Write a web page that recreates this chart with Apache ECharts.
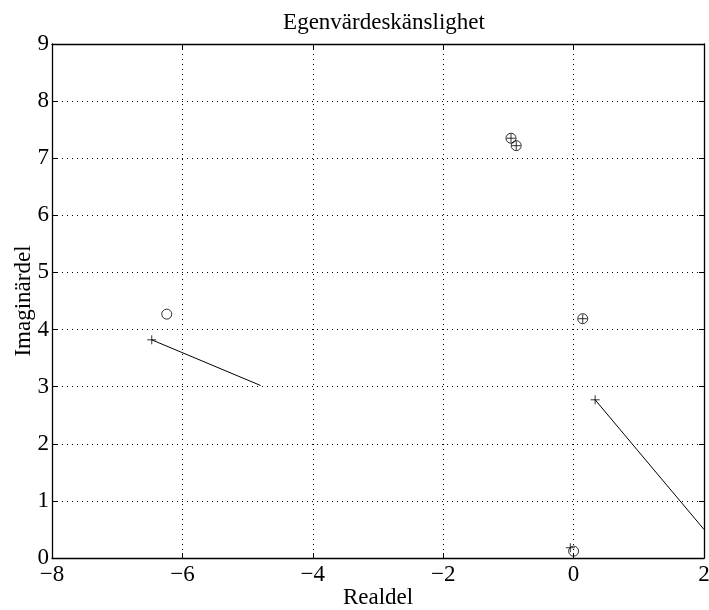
<!DOCTYPE html>
<html>
<head>
<meta charset="utf-8">
<script src="https://cdn.jsdelivr.net/npm/echarts@6/dist/echarts.min.js"></script>
<style>
html,body{margin:0;padding:0;background:#fff;}
#chart{width:709px;height:610px;}
</style>
</head>
<body>
<div id="chart"></div>
<script>
// Eigenvalues of the original system (circles)
const circlePoints = [[-6.24, 4.27], [0.14, 4.19], [0.0, 0.12], [-0.96, 7.35], [-0.88, 7.22]];
// Perturbed eigenvalues (plus markers)
const plusPoints = [[-6.47, 3.82], [0.33, 2.77], [0.14, 4.19], [-0.05, 0.18], [-0.96, 7.35], [-0.88, 7.22]];
// Sensitivity direction segments, start and end
const sensLine1 = [[-6.47, 3.82], [-4.80, 3.02]];
const sensLine2 = [[0.33, 2.77], [2.0, 0.50]];
const xTicks = [-8, -6, -4, -2, 0, 2];
const yTicks = [0, 1, 2, 3, 4, 5, 6, 7, 8, 9];

const font = 'Liberation Serif';
const chart = echarts.init(document.getElementById('chart'), null, {renderer: 'canvas'});

// box edges on top and right with inward ticks, no labels
const boxAxis = {
  axisLine: {show: true, onZero: false, lineStyle: {color: '#000', width: 1.3}},
  axisTick: {show: true, inside: true, length: 5, lineStyle: {color: '#000'}},
  axisLabel: {show: false},
  splitLine: {show: false}
};

chart.setOption({
  animation: false,
  backgroundColor: '#fff',
  title: {
    text: 'Egenvärdeskänslighet',
    left: 379, top: 6, textAlign: 'center',
    textStyle: {fontFamily: font, fontSize: 23, fontWeight: 'normal', color: '#000'}
  },
  grid: {left: 52, right: 5, top: 44, bottom: 52, show: false, outerBoundsMode: 'none', containLabel: false},
  xAxis: [{
    type: 'value', min: -8, max: 2, interval: 2,
    name: 'Realdel', nameLocation: 'middle', nameGap: 28, nameMoveOverlap: false,
    nameTextStyle: {fontFamily: font, fontSize: 23, color: '#000'},
    axisLine: {show: true, onZero: false, lineStyle: {color: '#000', width: 1.3}},
    axisTick: {show: true, inside: true, length: 5, lineStyle: {color: '#000'}},
    axisLabel: {fontFamily: font, fontSize: 23, color: '#000', margin: 5,
      formatter: v => xTicks.includes(v) ? String(v).replace('-', '\u2212') : ''},
    splitLine: {show: true, lineStyle: {color: '#000', type: [1, 4], width: 1}}
  }, Object.assign({type: 'value', min: -8, max: 2, interval: 2, position: 'top'}, boxAxis)],
  yAxis: [{
    type: 'value', min: 0, max: 9, interval: 1,
    name: 'Imaginärdel', nameLocation: 'middle', nameGap: 17, nameMoveOverlap: false,
    nameTextStyle: {fontFamily: font, fontSize: 23, color: '#000'},
    axisLine: {show: true, onZero: false, lineStyle: {color: '#000', width: 1.3}},
    axisTick: {show: true, inside: true, length: 5, lineStyle: {color: '#000'}},
    axisLabel: {fontFamily: font, fontSize: 23, color: '#000', margin: 3,
      formatter: v => yTicks.includes(v) ? String(v) : ''},
    splitLine: {show: true, lineStyle: {color: '#000', type: [1, 4], width: 1}}
  }, Object.assign({type: 'value', min: 0, max: 9, interval: 1, position: 'right'}, boxAxis)],
  series: [
    {
      type: 'line', data: sensLine1, showSymbol: false, clip: true,
      lineStyle: {color: '#000', width: 1}, z: 3
    },
    {
      type: 'line', data: sensLine2, showSymbol: false, clip: true,
      lineStyle: {color: '#000', width: 1}, z: 3
    },
    {
      type: 'scatter', data: circlePoints, symbol: 'circle', symbolSize: 10,
      itemStyle: {color: 'rgba(0,0,0,0)', borderColor: '#000', borderWidth: 1}, z: 4
    },
    {
      type: 'scatter', data: plusPoints,
      symbol: 'path://M5,0 L5,10 M0,5 L10,5', symbolSize: 9,
      itemStyle: {color: 'rgba(0,0,0,0)', borderColor: '#000', borderWidth: 1}, z: 5
    }
  ]
});
</script>
</body>
</html>
